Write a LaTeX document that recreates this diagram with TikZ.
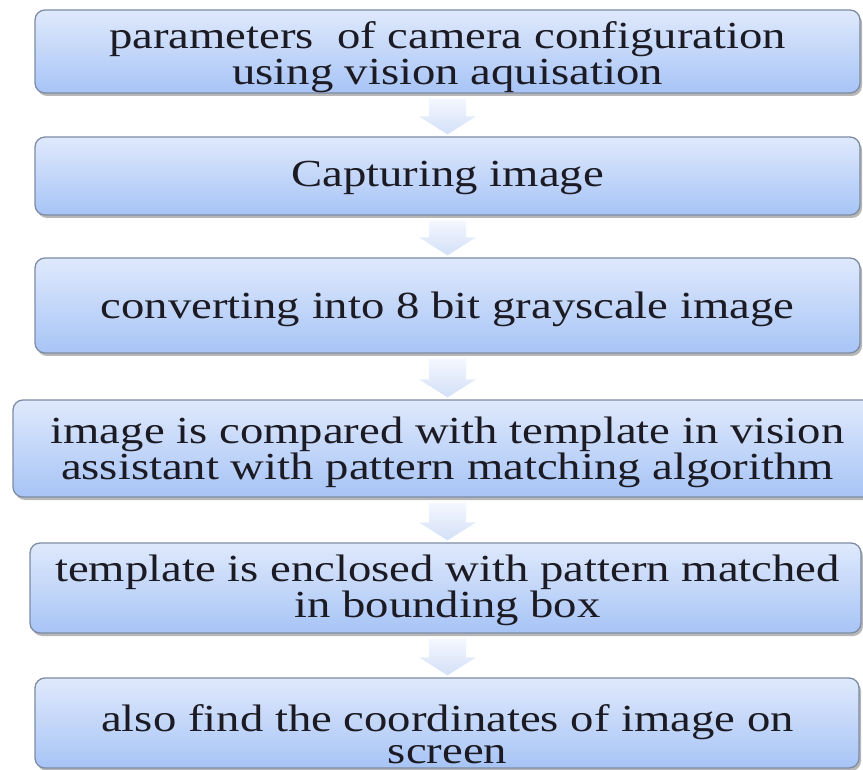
\documentclass[tikz,border=0pt]{standalone}
\usepackage{fontspec}
\usepackage{graphicx}
\setmainfont{Liberation Serif}
\usetikzlibrary{shadows,calc}

\definecolor{boxtop}{HTML}{DFE9FC}
\definecolor{boxbot}{HTML}{A7C4F6}
\definecolor{boxline}{HTML}{7D8CA3}
\definecolor{arrtop}{HTML}{F4F7FE}
\definecolor{arrbot}{HTML}{D3E0F8}
\definecolor{ink}{HTML}{1C1A22}

% lines of one step, centred, set a little flatter than wide
\newcommand\steplines[1]{\scalebox{1}[0.82]{\begin{tabular}[t]{@{}c@{}}#1\end{tabular}}}

\tikzset{
  stepbox/.style={rectangle, rounded corners=10pt, draw=boxline, line width=1.3pt,
    top color=boxtop, bottom color=boxbot, inner sep=0pt,
    drop shadow={shadow xshift=2pt, shadow yshift=-3pt, opacity=0.4, fill=black!70}},
  steptext/.style={anchor=base, text=ink, inner sep=0pt,
    font=\fontsize{46.7}{40}\selectfont},
  flowarrow/.style={top color=arrtop, bottom color=arrbot, draw=none}
}

\begin{document}
\begin{tikzpicture}[x=1pt,y=-1pt]
  \useasboundingbox (0,0) rectangle (863,770);
  \clip (0,0) rectangle (863,770);

  % process steps
  \node[stepbox, minimum width=825pt, minimum height=83pt] (b1) at (447.5,51.5) {};
  \node[stepbox, minimum width=825pt, minimum height=78pt] (b2) at (447.5,176) {};
  \node[stepbox, minimum width=825pt, minimum height=95pt] (b3) at (447.5,305.5) {};
  \node[stepbox, minimum width=869pt, minimum height=97pt] (b4) at (447.5,448.5) {};
  \node[stepbox, minimum width=831pt, minimum height=90pt] (b5) at (445.5,588) {};
  \node[stepbox, minimum width=824pt, minimum height=90pt] (b6) at (447,723) {};

  % common axis of the block arrows
  \coordinate (axis) at (447.5,0);

  % block arrows between consecutive steps
  \foreach \a/\b in {b1/b2, b2/b3, b3/b4, b4/b5, b5/b6} {
    \path[flowarrow] let \p1=(axis |- \a.south), \p2=(axis |- \b.north) in
      (\x1-18.5pt,\y1-5pt) -- (\x1+18.5pt,\y1-5pt) -- (\x1+18.5pt,\y2+20pt)
      -- (\x1+28.5pt,\y2+20pt) -- (\x1,\y2+2pt) -- (\x1-28.5pt,\y2+20pt)
      -- (\x1-18.5pt,\y2+20pt) -- cycle;
  }

  % step texts (anchored on the baseline of their first line)
  \node[steptext] (t1) at (447.5,49)
    {\steplines{parameters~ of camera configuration\\using vision aquisation}};
  \node[steptext] (t2) at (447.5,187) {\steplines{Capturing image}};
  \node[steptext] (t3) at (447.5,319) {\steplines{converting into 8 bit grayscale image}};
  \node[steptext] (t4) at (447.5,443)
    {\steplines{image is compared with template in vision\\assistant with pattern matching algorithm}};
  \node[steptext] (t5) at (447.5,581)
    {\steplines{template is enclosed with pattern matched\\in bounding box}};
  \node[steptext] (t6) at (447.5,731)
    {\steplines{also find the coordinates of image on\\screen}};
\end{tikzpicture}
\end{document}
